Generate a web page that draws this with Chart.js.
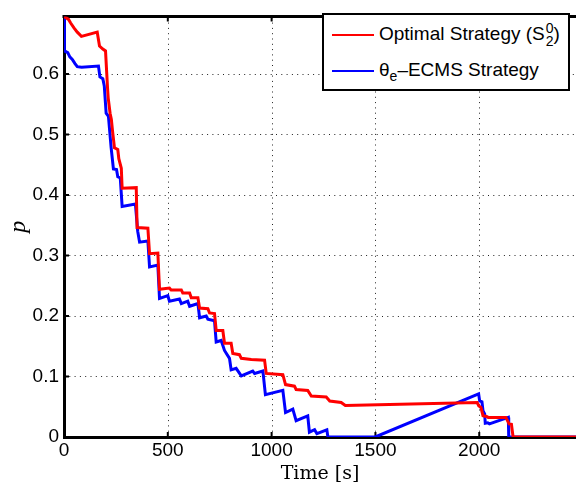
<!DOCTYPE html>
<html>
<head>
<meta charset="utf-8">
<script src="https://cdn.jsdelivr.net/npm/chart.js@4/dist/chart.umd.min.js"></script>
<style>
  body { margin: 0; background: #fff; }
  #wrap { position: relative; width: 576px; height: 488px; }
  #legenda {
    position: absolute; left: 322px; top: 13px; width: 248px; height: 78px;
    box-sizing: border-box; border: 2px solid #000; background: #fff;
    font-family: "Liberation Sans", Arial, sans-serif; font-size: 19px; color: #000;
  }
  .item { position: absolute; left: 8px; white-space: nowrap; line-height: 24px; }
  .amostra { display: inline-block; width: 42px; height: 0; border-top: 2px solid; vertical-align: middle; margin-right: 5px; }
  .pilha { display: inline-block; vertical-align: middle; line-height: 0.95; font-size: 14px; text-align: left; margin-left: 1px; }
  .pilha span { display: block; }
  sub { font-size: 14px; }
</style>
</head>
<body>
<div id="wrap">
  <canvas id="grafico" width="576" height="488"></canvas>
  <div id="legenda">
    <div class="item" style="top:7px"><span class="amostra" style="border-color:#ff0000"></span>Optimal Strategy (S<span class="pilha"><span>0</span><span>2</span></span>)</div>
    <div class="item" style="top:43px"><span class="amostra" style="border-color:#0000ff"></span>&theta;<sub>e</sub>&ndash;ECMS Strategy</div>
  </div>
</div>
<script>
// Dados //
const tempoOtimo = [0, 22, 32, 48, 64, 84, 160, 171, 187, 200, 206, 210, 213, 222, 228, 234, 243, 259, 264, 276, 280,
  348, 352, 404, 412, 452, 460, 508, 516, 565, 572, 605, 613, 645, 653, 693, 701, 725, 733, 765, 773, 805, 813, 845, 854,
  902, 966, 974, 1054, 1067, 1110, 1118, 1174, 1191, 1263, 1280, 1335, 1355, 1990, 1998, 2008, 2018, 2035, 2043, 2128,
  2144, 2155, 2163, 2500];
const pOtimo = [0.695, 0.690, 0.684, 0.676, 0.669, 0.662, 0.669, 0.646, 0.641, 0.638, 0.600, 0.575, 0.560, 0.535, 0.525,
  0.505, 0.478, 0.475, 0.460, 0.444, 0.411, 0.412, 0.346, 0.345, 0.303, 0.304, 0.244, 0.246, 0.243, 0.243, 0.238, 0.238,
  0.230, 0.230, 0.213, 0.212, 0.205, 0.204, 0.176, 0.176, 0.155, 0.155, 0.138, 0.136, 0.130, 0.128, 0.127, 0.105, 0.103,
  0.0866, 0.084, 0.0785, 0.077, 0.0676, 0.066, 0.0595, 0.057, 0.052, 0.057, 0.0514, 0.049, 0.0352, 0.034, 0.0324, 0.0324,
  0.0217, 0.021, 0, 0];

const tempoEcms = [0, 2, 18, 28, 40, 53, 64, 85, 166, 173, 187, 194, 203, 214, 227, 238, 253, 259, 271, 280, 344, 355, 364,
  404, 412, 452, 460, 500, 508, 556, 565, 596, 605, 645, 653, 685, 693, 725, 733, 757, 773, 797, 805, 829, 854, 909, 918,
  958, 970, 1054, 1067, 1102, 1118, 1174, 1182, 1207, 1218, 1266, 1271, 1499, 1997, 2002, 2013, 2018, 2026, 2029, 2041,
  2049, 2140, 2142, 2500];
const pEcms = [0.695, 0.638, 0.635, 0.628, 0.624, 0.617, 0.612, 0.611, 0.613, 0.595, 0.592, 0.580, 0.535, 0.530, 0.478,
  0.443, 0.442, 0.430, 0.428, 0.381, 0.385, 0.340, 0.322, 0.324, 0.281, 0.284, 0.229, 0.2335, 0.2245, 0.228, 0.2205,
  0.2245, 0.216, 0.2205, 0.197, 0.200, 0.1945, 0.192, 0.157, 0.1595, 0.143, 0.130, 0.111, 0.1135, 0.101, 0.109, 0.105,
  0.109, 0.070, 0.077, 0.0405, 0.046, 0.027, 0.035, 0.008, 0.012, 0.0055, 0.012, 0, 0, 0.0714, 0.0595, 0.058, 0.0433,
  0.038, 0.0227, 0.0235, 0.0216, 0.0324, 0, 0];

const nomesSeries = ['Optimal Strategy (S_2^0)', 'θe–ECMS Strategy'];
const ticksTempo = [0, 500, 1000, 1500, 2000];
const ticksP = [0, 0.1, 0.2, 0.3, 0.4, 0.5, 0.6];

function pontos(xs, ys) {
  return xs.map((x, i) => ({ x: x, y: ys[i] }));
}

// Grade pontilhada, moldura superior e marcas internas (estilo Matlab)
const moldura = {
  id: 'moldura',
  beforeDatasetsDraw(chart) {
    const ctx = chart.ctx;
    const a = chart.chartArea;
    const sx = chart.scales.x, sy = chart.scales.y;
    ctx.save();
    // grade
    ctx.strokeStyle = '#222';
    ctx.lineWidth = 1;
    ctx.setLineDash([1, 4.3]);
    ctx.beginPath();
    ticksTempo.forEach(v => {
      if (v === 0) return;
      const px = Math.round(sx.getPixelForValue(v)) + 0.5;
      ctx.moveTo(px, a.bottom); ctx.lineTo(px, a.top);
    });
    ticksP.forEach(v => {
      if (v === 0) return;
      const py = Math.round(sy.getPixelForValue(v)) + 0.5;
      ctx.moveTo(a.left, py); ctx.lineTo(a.right, py);
    });
    ctx.stroke();
    ctx.setLineDash([]);
    // moldura de cima
    ctx.strokeStyle = '#000';
    ctx.lineWidth = 3;
    ctx.beginPath();
    ctx.moveTo(a.left - 1.5, a.top);
    ctx.lineTo(a.right, a.top);
    ctx.stroke();
    // marcas
    ctx.lineWidth = 2;
    ctx.beginPath();
    ticksTempo.forEach(v => {
      const px = sx.getPixelForValue(v);
      ctx.moveTo(px, a.bottom); ctx.lineTo(px, a.bottom - 5);
      ctx.moveTo(px, a.top); ctx.lineTo(px, a.top + 5);
    });
    ticksP.forEach(v => {
      const py = sy.getPixelForValue(v);
      ctx.moveTo(a.left, py); ctx.lineTo(a.left + 5, py);
    });
    ctx.stroke();
    ctx.restore();
  }
};

const fonteTick = { family: 'Liberation Sans', size: 19 };

new Chart(document.getElementById('grafico'), {
  type: 'line',
  data: {
    datasets: [
      { label: nomesSeries[0], data: pontos(tempoOtimo, pOtimo), borderColor: '#ff0000', borderWidth: 3, pointRadius: 0, tension: 0 },
      { label: nomesSeries[1], data: pontos(tempoEcms, pEcms), borderColor: '#0000ff', borderWidth: 3, pointRadius: 0, tension: 0 }
    ]
  },
  options: {
    responsive: false,
    animation: false,
    layout: { padding: { top: 7, right: 0, left: 0, bottom: 0 } },
    plugins: { legend: { display: false }, tooltip: { enabled: false } },
    scales: {
      x: {
        type: 'linear',
        min: 0,
        max: 2466,
        afterBuildTicks: s => { s.ticks = ticksTempo.map(v => ({ value: v })); },
        afterFit: s => { s.height = 51; },
        ticks: { font: fonteTick, color: '#000', padding: 2, callback: v => String(v) },
        grid: { display: false, drawTicks: false },
        border: { color: '#000', width: 3 },
        title: { display: true, text: 'Time [s]', font: { family: 'DejaVu Serif', size: 19 }, color: '#000', padding: { top: 0, bottom: 3 } }
      },
      y: {
        min: 0,
        max: 0.695,
        afterBuildTicks: s => { s.ticks = ticksP.map(v => ({ value: v })); },
        afterFit: s => { s.width = 64; },
        ticks: { font: fonteTick, color: '#000', padding: 5, callback: v => String(v) },
        grid: { display: false, drawTicks: false },
        border: { color: '#000', width: 3 },
        title: { display: true, text: 'p', font: { family: 'Liberation Serif', size: 24, style: 'italic' }, color: '#000', padding: { top: 4, bottom: 0 } }
      }
    }
  },
  plugins: [moldura]
});
</script>
</body>
</html>
